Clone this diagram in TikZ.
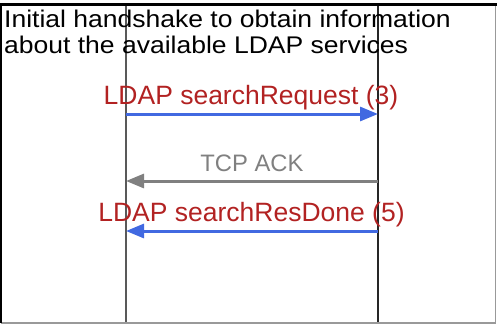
\documentclass[tikz,border=0pt]{standalone}
\usepackage{fontspec}
\setmainfont{Liberation Sans}
\newfontfamily\headfont[FakeStretch=1.1]{Liberation Sans}
\usetikzlibrary{arrows.meta}
\definecolor{MsgBlue}{RGB}{65,105,225}
\definecolor{MsgRed}{RGB}{178,34,34}
\definecolor{AckGray}{RGB}{128,128,128}

\begin{document}
\begin{tikzpicture}[x=1pt,y=-1pt]
		\tikzstyle{msg}=[line width=3pt, -{Triangle[length=18pt,width=14pt]}];
		\tikzstyle{lbl}=[inner sep=0pt, anchor=base, text=MsgRed, font=\fontsize{26.5}{28}\selectfont];
		\tikzstyle{head}=[inner sep=0pt, anchor=base west, font=\headfont\fontsize{24.1}{27}\selectfont];
		\useasboundingbox (0,0) rectangle (497,324);
		% lifelines
		\coordinate (cliTop) at (126,5);
		\coordinate (cliBot) at (126,324);
		\coordinate (srvTop) at (378,5);
		\coordinate (srvBot) at (378,324);
		\draw[line width=1.5pt, black!65] (cliTop) -- (cliBot);
		\draw[line width=1.5pt, black!85] (srvTop) -- (srvBot);
		% frame
		\coordinate (fTL) at (0,4.5);
		\coordinate (fTR) at (497,4.5);
		\coordinate (fBL) at (1,323);
		\coordinate (fBR) at (495.3,323);
		\draw[line width=1.5pt, black!40] (fBL) -- (fBR) -- (495.3,4.5);
		\draw[line width=2pt, black] (1,4.5) -- (fBL);
		\draw[line width=3pt, black] (fTL) -- (fTR);
		% title
		\node [head] (headA) at (4,27) {Initial handshake to obtain information};
		\node [head] (headB) at (4,53.5) {about the available LDAP services};
		% messages
		\coordinate (req0) at (126,114);
		\coordinate (req1) at (378,114);
		\coordinate (ack0) at (378,181);
		\coordinate (ack1) at (126,181);
		\coordinate (done0) at (378,231);
		\coordinate (done1) at (126,231);
		\node [lbl] (reqLbl) at (251,104) {LDAP searchRequest (3)};
		\node [lbl, text=AckGray, font=\fontsize{23.8}{26}\selectfont] (ackLbl) at (252,171.5) {TCP ACK};
		\node [lbl] (doneLbl) at (251.5,221) {LDAP searchResDone (5)};
		\draw[msg, MsgBlue] (req0) -- (req1);
		\draw[msg, AckGray] (ack0) -- (ack1);
		\draw[msg, MsgBlue] (done0) -- (done1);
	\end{tikzpicture}
\end{document}
